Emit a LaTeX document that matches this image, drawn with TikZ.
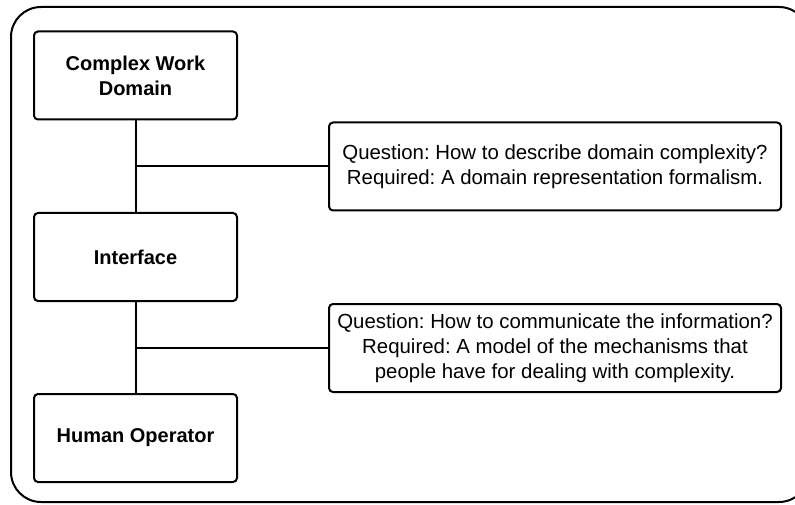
\documentclass[tikz,border=0pt]{standalone}
\usepackage{fontspec}
\setmainfont{Liberation Sans}
\usepackage{tikz}
\usetikzlibrary{positioning}
\frenchspacing

\begin{document}
\begin{tikzpicture}[
            x=1pt, y=-1pt,
            line width=2pt,
            block/.style={
            draw,
            rounded corners=4pt,
            minimum width=203pt,
            minimum height=88pt,
            align=center,
            font=\fontsize{20}{25}\selectfont\bfseries
            },
            note/.style={
            draw,
            rounded corners=4pt,
            minimum width=452pt,
            minimum height=88pt,
            align=center,
            font=\fontsize{20.4}{25}\selectfont
            }
            ]
            \useasboundingbox (0,0) rectangle (795,505);
            % frame around everything
            \draw[rounded corners=30pt] (11,7) rectangle (809,502);
            % the three stages
            \node[block] (domain) at (135.5,75.5) {Complex Work\\Domain};
            \node[block] (interface) at (135.5,257) {Interface};
            \node[block] (operator) at (135.5,438) {Human Operator};
            % the two questions
            \node[note] (q1) at (555,166.5) {Question: How to describe domain complexity?\\Required: A domain representation formalism.};
            \node[note] (q2) at (555,348) {Question: How to communicate the information?\\Required: A model of the mechanisms that\\people have for dealing with complexity.};
            \draw (domain) -- (interface) -- (operator);
            \draw (q1.west) -- (q1.west -| domain.south);
            \draw (q2.west) -- (q2.west -| interface.south);
        \end{tikzpicture}
\end{document}
